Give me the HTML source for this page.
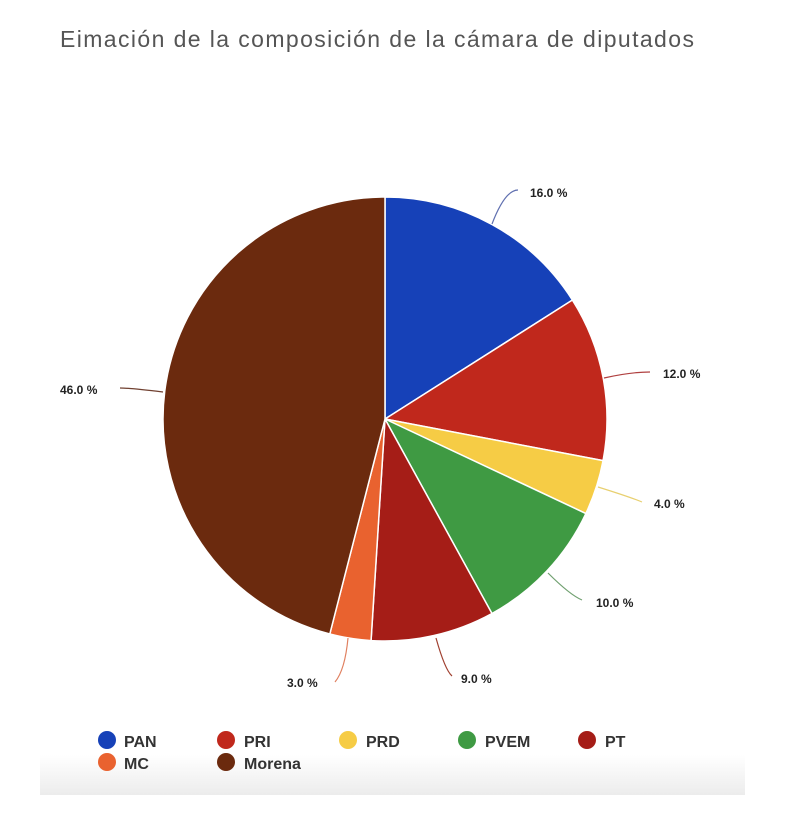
<!DOCTYPE html>
<html><head><meta charset="utf-8"><style>
body{margin:0;width:800px;height:825px;background:#fff;overflow:hidden;font-family:"Liberation Sans",sans-serif}
</style></head><body>
<svg id="s" width="800" height="825" xmlns="http://www.w3.org/2000/svg">
<defs><linearGradient id="g" x1="0" y1="0" x2="0" y2="1"><stop offset="0" stop-color="#fff"/><stop offset="1" stop-color="#ececec"/></linearGradient></defs>
<rect x="40" y="755" width="705" height="40" fill="url(#g)"/>
<text x="60" y="47" font-size="23" fill="#555" letter-spacing="1.4">Eimación de la composición de la cámara de diputados</text>
<g id="pie"></g>
<g font-size="12" font-weight="bold" fill="#222">
<text x="530" y="197">16.0 %</text>
<text x="663" y="378">12.0 %</text>
<text x="654" y="508">4.0 %</text>
<text x="596" y="607">10.0 %</text>
<text x="461" y="683">9.0 %</text>
<text x="287" y="687">3.0 %</text>
<text x="60" y="394">46.0 %</text>
</g>
<g fill="none" stroke-width="1.2">
<path d="M492,224 Q505,190 518,190" stroke="#6070b0"/>
<path d="M604,378 Q630,372 650,372" stroke="#b04040"/>
<path d="M598,487 Q630,497 642,502" stroke="#e8d070"/>
<path d="M548,573 Q570,595 582,600" stroke="#70a070"/>
<path d="M436,638 Q445,670 452,676" stroke="#a04030"/>
<path d="M348,638 Q345,670 335,682" stroke="#e08060"/>
<path d="M163,392 Q130,388 120,388" stroke="#704030"/>
</g>
<g font-size="16" font-weight="bold" fill="#333">
<circle cx="107" cy="740" r="9" fill="#1641b8"/><text x="124" y="747">PAN</text>
<circle cx="226" cy="740" r="9" fill="#c0281c"/><text x="244" y="747">PRI</text>
<circle cx="348" cy="740" r="9" fill="#f6cc45"/><text x="366" y="747">PRD</text>
<circle cx="467" cy="740" r="9" fill="#3f9a43"/><text x="485" y="747">PVEM</text>
<circle cx="587" cy="740" r="9" fill="#a51d17"/><text x="605" y="747">PT</text>
<circle cx="107" cy="762" r="9" fill="#e9622f"/><text x="124" y="769">MC</text>
<circle cx="226" cy="762" r="9" fill="#6b2a0e"/><text x="244" y="769">Morena</text>
</g>
</svg>
<script>
var d=[[16,"#1641b8"],[12,"#c0281c"],[4,"#f6cc45"],[10,"#3f9a43"],[9,"#a51d17"],[3,"#e9622f"],[46,"#6b2a0e"]];
var cx=385,cy=419,r=222,a=0,h="";
d.forEach(function(s){var a2=a+s[0]/100*2*Math.PI;
var x1=cx+r*Math.sin(a),y1=cy-r*Math.cos(a),x2=cx+r*Math.sin(a2),y2=cy-r*Math.cos(a2);
h+='<path d="M'+cx+','+cy+' L'+x1+','+y1+' A'+r+','+r+' 0 '+(a2-a>Math.PI?1:0)+' 1 '+x2+','+y2+' Z" fill="'+s[1]+'" stroke="#fff" stroke-width="1.5"/>';a=a2;});
document.getElementById("pie").innerHTML=h;
</script>
</body></html>
